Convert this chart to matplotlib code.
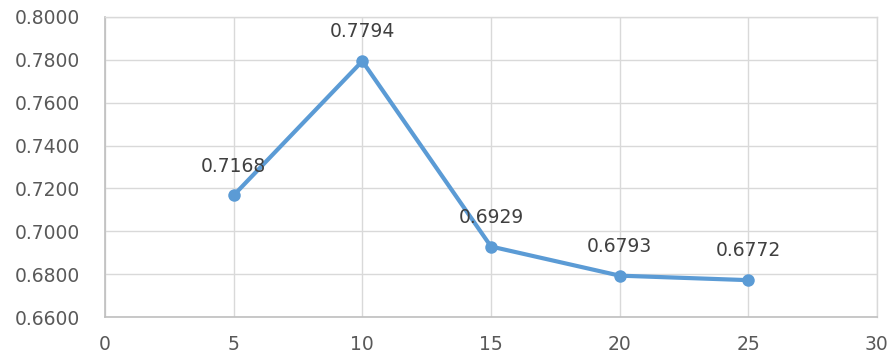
import matplotlib
matplotlib.use('Agg')
import matplotlib.pyplot as plt

plt.rcParams['font.family'] = 'DejaVu Sans'

x_vals = [5, 10, 15, 20, 25]
y_vals = [0.7168, 0.7794, 0.6929, 0.6793, 0.6772]
x_ticks = [0, 5, 10, 15, 20, 25, 30]
y_ticks = [0.66, 0.68, 0.70, 0.72, 0.74, 0.76, 0.78, 0.80]

LINE = '#5B9BD5'

fig = plt.figure(figsize=(8.93, 3.54), dpi=100)
ax = fig.add_axes([0.1176, 0.1045, 0.8644, 0.8475])

ax.plot(x_vals, y_vals, color=LINE, lw=3, marker='o', ms=9,
        markeredgewidth=0, zorder=3, solid_capstyle='round')

for x, y in zip(x_vals, y_vals):
    ax.annotate(f'{y:.4f}', (x, y), xytext=(0, 21), textcoords='offset points',
                ha='center', va='center', fontsize=13.5, color='#404040', zorder=4)

ax.set_xlim(0, 30)
ax.set_ylim(0.66, 0.80)
ax.set_xticks(x_ticks)
ax.set_yticks(y_ticks)
ax.set_yticklabels([f'{v:.4f}' for v in y_ticks])
ax.tick_params(length=0, labelsize=13.5, labelcolor='#595959')
ax.tick_params(axis='y', pad=18)
ax.tick_params(axis='x', pad=13)

ax.grid(color='#D9D9D9', lw=1)
ax.set_axisbelow(True)
for side in ('top', 'right'):
    ax.spines[side].set_color('#D9D9D9')
    ax.spines[side].set_linewidth(1)
for side in ('left', 'bottom'):
    ax.spines[side].set_color('#BFBFBF')
    ax.spines[side].set_linewidth(1.2)

fig.savefig('out.png', dpi=100)
